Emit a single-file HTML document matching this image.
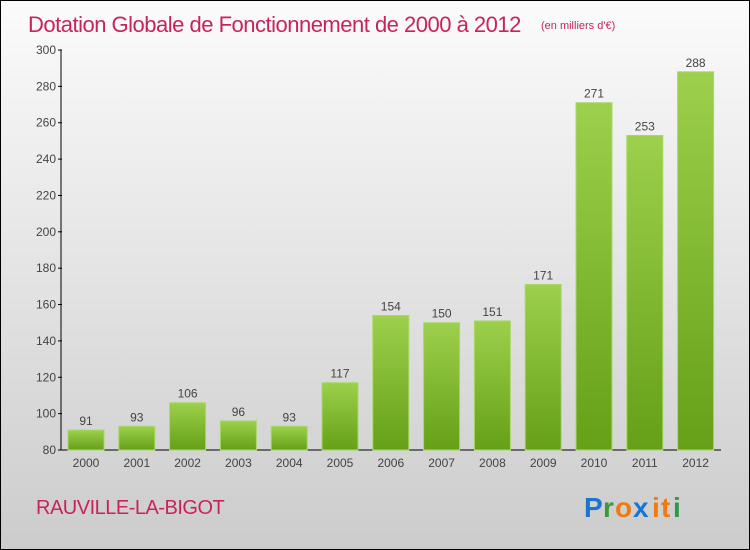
<!DOCTYPE html>
<html><head><meta charset="utf-8"><style>
body{margin:0}
#wrap{position:relative;width:748px;height:548px;border:1px solid #000;background:linear-gradient(#fbfbfb,#cccccc);overflow:hidden;font-family:"Liberation Sans",sans-serif}
</style></head><body>
<div id="wrap">
<svg width="748" height="548" id="svg">
<text x="27" y="31" font-size="22" fill="#c8245a" style="letter-spacing:-0.5px">Dotation Globale de Fonctionnement de 2000 à 2012</text>
<text x="540" y="28" font-size="11" fill="#c8245a">(en milliers d'€)</text>
<text x="35" y="513" font-size="20" fill="#c8245a" style="letter-spacing:-0.5px">RAUVILLE-LA-BIGOT</text>
<g font-size="28" font-weight="bold" font-family="Liberation Sans,sans-serif">
<text x="583" y="516" fill="#1a75cf">P</text><text x="602" y="516" fill="#3a9a3a">r</text><text x="614" y="516" fill="#f07a10">o</text><text x="632" y="516" fill="#1a75cf">x</text><text x="651" y="516" fill="#f07a10">i</text><text x="660" y="516" fill="#f07a10">t</text><text x="672" y="516" fill="#2a9a4a">i</text>
</g>
<defs><linearGradient id="g" x1="0" y1="0" x2="0" y2="1"><stop offset="0" stop-color="#9dd04c"/><stop offset="1" stop-color="#65a017"/></linearGradient></defs>
<g id="grid"></g><g id="bars"></g>
</svg></div>
<script>
const years=["2000","2001","2002","2003","2004","2005","2006","2007","2008","2009","2010","2011","2012"];
const values=[91,93,106,96,93,117,154,150,151,171,271,253,288];
const ticks=[80,100,120,140,160,180,200,220,240,260,280,300];
const NS="http://www.w3.org/2000/svg";
const svg=document.getElementById('svg');
const y=v=>449-(v-80)*(400/220);
const x=i=>85+i*50.8;
function el(t,a,p){const e=document.createElementNS(NS,t);for(const k in a)e.setAttribute(k,a[k]);(p||svg).appendChild(e);return e;}
const ax=el('line',{x1:60,y1:49,x2:60,y2:449,stroke:'#000'});


const bx=el('line',{x1:60,y1:449,x2:720,y2:449,stroke:'#000'});


ticks.forEach(t=>{
 el('line',{x1:57,y1:y(t),x2:61,y2:y(t),stroke:'#000'});
 const tx=el('text',{x:55,y:y(t)+4,'font-size':12,fill:'#444','text-anchor':'end'});
 tx.textContent=t;
 
 
});
values.forEach((v,i)=>{
 const r=el('rect',{x:x(i)-18,y:y(v),width:36,height:449-y(v),fill:'url(#g)',stroke:'#a8d86a','stroke-width':1});
 
 
 const l=el('text',{x:x(i),y:y(v)-5,'font-size':12,fill:'#444','text-anchor':'middle'});
 l.textContent=v;
 
 
 const xl=el('text',{x:x(i),y:466,'font-size':12,fill:'#444','text-anchor':'middle'});
 xl.textContent=years[i];
 
 
});
</script>
</body></html>
